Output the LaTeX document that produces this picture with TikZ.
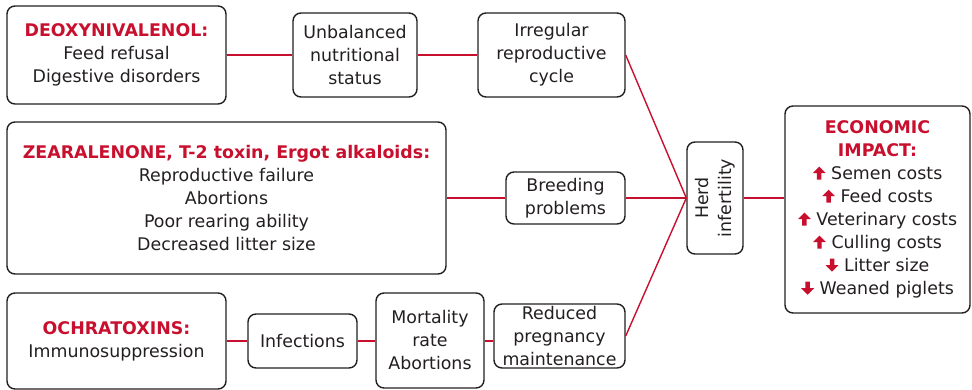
\documentclass[tikz,border=0pt]{standalone}
\usepackage{fontspec}
\setmainfont{DejaVu Sans}
\definecolor{crim}{HTML}{C8102E}
\definecolor{ink}{HTML}{231F20}
\newcommand{\ttl}[1]{{\bfseries\color{crim}#1}}
\newcommand{\upa}{\tikz[baseline=0pt,x=1pt,y=1pt,sharp corners]\fill[crim] (-2.2,0) -- (2.2,0) -- (2.2,6.5) -- (6.5,6.5) -- (0,13) -- (-6.5,6.5) -- (-2.2,6.5) -- cycle;}
\newcommand{\dna}{\tikz[baseline=0pt,x=1pt,y=1pt,sharp corners]\fill[crim] (-2.2,13) -- (2.2,13) -- (2.2,6.5) -- (6.5,6.5) -- (0,0) -- (-6.5,6.5) -- (-2.2,6.5) -- cycle;}
\begin{document}
\begin{tikzpicture}[x=1pt,y=-1pt,
  box/.style={draw=ink,line width=1.4pt,rounded corners=8pt,align=center,text=ink,
    inner sep=0pt,font=\fontsize{17.4}{23}\selectfont},
  link/.style={draw=crim,line width=1.4pt}]
\useasboundingbox (0,0) rectangle (972,389);
\node[box,minimum width=219,minimum height=98] (b1) at (116.5,55) {\ttl{DEOXYNIVALENOL:}\\Feed refusal\\Digestive disorders};
\node[box,minimum width=124,minimum height=84] (b2) at (355,55) {Unbalanced\\nutritional\\status};
\node[box,minimum width=147,minimum height=84] (b3) at (551.5,55) {Irregular\\reproductive\\cycle};
\node[box,minimum width=439,minimum height=152] (b4) at (226.5,198) {\ttl{ZEARALENONE, T-2 toxin, Ergot alkaloids:}\\Reproductive failure\\Abortions\\Poor rearing ability\\Decreased litter size};
\node[box,minimum width=119,minimum height=52] (breed) at (565.5,198) {Breeding\\problems};
\node[box,rotate=90,minimum width=112,minimum height=56] (herd) at (715,198) {Herd\\infertility};
\node[box,minimum width=131,minimum height=64] (red) at (559.5,336) {Reduced\\pregnancy\\maintenance};
\node[box,minimum width=219,minimum height=96] (ochra) at (116.5,341) {\ttl{OCHRATOXINS:}\\Immunosuppression};
\node[box,minimum width=109,minimum height=54] (inf) at (302.5,341) {Infections};
\node[box,minimum width=108,minimum height=95] (mort) at (430,340.5) {Mortality\\rate\\Abortions};
\node[box,minimum width=185,minimum height=207] (econ) at (877.5,209.5) {\ttl{ECONOMIC}\\\ttl{IMPACT:}\\\upa{} Semen costs\\\upa{} Feed costs\\\upa{} Veterinary costs\\\upa{} Culling costs\\\dna{} Litter size\\\dna{} Weaned piglets};
\draw[link] (b1) -- (b2);
\draw[link] (b2) -- (b3);
\draw[link] (b3.east) -- (herd.north);
\draw[link] (b4) -- (breed);
\draw[link] (breed) -- (herd);
\draw[link] (red.east) -- (herd.north);
\draw[link] (herd.south) -- (herd.south -| econ.west);
\draw[link] (ochra.east) -- (ochra.east -| inf.west);
\draw[link] (inf.east) -- (inf.east -| mort.west);
\draw[link] (inf.east -| mort.east) -- (inf.east -| red.west);
\end{tikzpicture}
\end{document}
